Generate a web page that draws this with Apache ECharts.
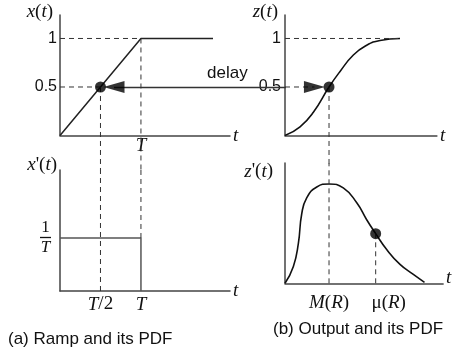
<!DOCTYPE html>
<html>
<head>
<meta charset="utf-8">
<script src="https://cdn.jsdelivr.net/npm/echarts@6/dist/echarts.min.js"></script>
<style>html,body{margin:0;background:#fff}#main{width:453px;height:356px}</style>
</head>
<body>
<div id="main"></div>
<script>
  // ramp x(t), t in units of T
  var rampT = [0, 1, 1.89];
  var rampV = [0, 1, 1];
  // its pdf x'(t), value in units of 1/T
  var stepT = [0, 1, 1];
  var stepV = [1, 1, 0];
  // output z(t)
  var zT = [0, 0.97, 1.83, 2.84, 3.55, 4.41, 5.27, 6.13, 7.42];
  var zV = [0, 0.09, 0.24, 0.5, 0.66, 0.83, 0.93, 0.98, 1.0];
  // its pdf z'(t)
  var dzT = [0, 0.54, 0.86, 1.08, 1.4, 2.05, 2.84, 3.76, 4.63, 5.27, 5.85, 6.56, 7.42, 8.28, 9.0];
  var dzV = [0, 0.17, 0.4, 0.7, 0.86, 0.97, 1.0, 0.96, 0.81, 0.64, 0.5, 0.34, 0.19, 0.09, 0.01];
  var halfT = 0.5, fullT = 1;
  var modeR = 2.84, meanR = 5.85;
  var arrowLeftT = 0.667, arrowRightT = 1.9;
  var delayEndT = 2.79; // where the delay line meets the z(t) axis, in ramp units

  function zip(a, b) {
    var out = [];
    for (var i = 0; i < a.length; i++) out.push([a[i], b[i]]);
    return out;
  }

  var serif = 'Liberation Serif';
  var sans = 'Liberation Sans';
  var ink = '#111';
  var axisCol = '#444';
  var rich = {
    i: {fontFamily: serif, fontStyle: 'italic', fontSize: 19, color: ink},
    n: {fontFamily: serif, fontSize: 19, color: ink},
    g: {fontFamily: serif, fontSize: 19, color: ink, padding: [0, 0, 0, 26]},
    num: {fontFamily: serif, fontSize: 17, color: ink, align: 'center', lineHeight: 15},
    bar: {width: 11, height: 1.3, backgroundColor: ink, align: 'center', lineHeight: 4},
    den: {fontFamily: serif, fontStyle: 'italic', fontSize: 17, color: ink, align: 'center', lineHeight: 16}
  };

  function xAx(idx, max, labels) {
    return {
      type: 'value', gridIndex: idx, min: 0, max: max,
      name: '{i|t}', nameLocation: 'end', nameGap: 3,
      nameTextStyle: {rich: rich, verticalAlign: 'middle', padding: idx == 3 ? [0, 0, 10, 0] : 0},
      axisLine: {show: true, onZero: false, lineStyle: {color: axisCol, width: 1.5}},
      axisTick: {show: false},
      splitLine: {show: false},
      axisLabel: labels ? {
        customValues: labels.values, margin: labels.margin,
        formatter: function(v) { return labels.text[labels.values.indexOf(v)]; },
        rich: rich
      } : {show: false}
    };
  }
  function yAx(idx, max, name, gap, pad, labels) {
    return {
      type: 'value', gridIndex: idx, min: 0, max: max,
      name: name, nameLocation: 'end', nameGap: gap,
      nameTextStyle: {rich: rich, align: 'right', verticalAlign: 'middle', padding: [0, pad, 0, 0]},
      axisLine: {show: true, lineStyle: {color: axisCol, width: 1.5}},
      axisTick: {show: false},
      splitLine: {show: false},
      axisLabel: labels ? {
        customValues: labels.values, margin: labels.margin,
        formatter: function(v) { return labels.text[labels.values.indexOf(v)]; },
        fontFamily: sans, fontSize: 16, color: ink, rich: rich
      } : {show: false}
    };
  }

  function curve(ax, data, col, w) {
    return {type: 'line', xAxisIndex: ax, yAxisIndex: ax, data: data, symbol: 'none',
      lineStyle: {color: col || ink, width: w || 1.6}, silent: true};
  }
  function dash(ax, data) {
    return {type: 'line', xAxisIndex: ax, yAxisIndex: ax, data: data, symbol: 'none', clip: false,
      lineStyle: {color: '#333', width: 1, type: [5, 4]}, silent: true};
  }
  function dots(ax, data) {
    return {type: 'scatter', xAxisIndex: ax, yAxisIndex: ax, data: data, symbolSize: 11,
      itemStyle: {color: '#000'}, silent: true, z: 5};
  }
  function head(ax, pos, rot) {
    return {type: 'scatter', xAxisIndex: ax, yAxisIndex: ax, data: [pos], symbol: 'triangle',
      symbolSize: [12, 21], symbolRotate: rot, itemStyle: {color: '#000'}, silent: true, z: 5};
  }

  var dom = document.getElementById('main');
  var myChart = echarts.init(dom, null, {renderer: 'canvas'});
  var option = {
    backgroundColor: '#fff',
    animation: false,
    grid: [
      {left: 60, top: 15, width: 170, height: 120.5},
      {left: 60, top: 170, width: 170, height: 121},
      {left: 285, top: 15, width: 151.9, height: 120.5},
      {left: 285, top: 163, width: 158.1, height: 120.3}
    ],
    xAxis: [
      xAx(0, 2.1, {values: [fullT], text: ['{i|T}'], margin: 1}),
      xAx(1, 2.1, {values: [halfT, fullT], text: ['{i|T}{n|/2}', '{i|T}'], margin: 4}),
      xAx(2, 9.8, null),
      xAx(3, 10.2, {values: [modeR, meanR], text: ['{i|M}{n|(}{i|R}{n|)}', '{g|\u03bc(}{i|R}{n|)}'], margin: 10})
    ],
    yAxis: [
      yAx(0, 1.242, '{i|x}{n|(}{i|t}{n|)}', 3, 7, {values: [0.5, 1], text: ['0.5', '1'], margin: 3}),
      yAx(1, 2.283, "{i|x}{n|'(}{i|t}{n|)}", 5, 3, {values: [1], text: ['{num|1}\n{bar|}\n{den|T}'], margin: 9}),
      yAx(2, 1.242, '{i|z}{n|(}{i|t}{n|)}', 3, 7, {values: [0.5, 1], text: ['0.5', '1'], margin: 4}),
      yAx(3, 1.211, "{i|z}{n|'(}{i|t}{n|)}", -8.5, 12, null)
    ],
    series: [
      // ramp panel
      curve(0, zip(rampT, rampV), '#222', 1.5),
      dash(0, [[0, 1], [fullT, 1]]),
      dash(0, [[0, 0.5], [halfT, 0.5]]),
      dash(0, [[halfT, 0.5], [halfT, -0.36]]),
      dash(0, [[fullT, 1], [fullT, -0.36]]),
      {
        type: 'lines', coordinateSystem: 'cartesian2d', xAxisIndex: 0, yAxisIndex: 0, clip: false,
        data: [{coords: [[arrowLeftT, 0.5], [delayEndT, 0.5]]}],
        lineStyle: {color: '#333', width: 1.3, opacity: 1}, silent: true
      },
      dots(0, [[halfT, 0.5]]),
      head(0, [arrowLeftT, 0.5], 90),
      // ramp pdf
      curve(1, zip(stepT, stepV), '#555', 1.5),
      dash(1, [[halfT, 0], [halfT, 2.283]]),
      dash(1, [[fullT, 1], [fullT, 2.283]]),
      // output
      Object.assign(curve(2, zip(zT, zV)), {smooth: 0.5}),
      dash(2, [[0, 1], [zT[zT.length - 1], 1]]),
      dash(2, [[0, 0.5], [arrowRightT, 0.5]]),
      dash(2, [[modeR, 0.5], [modeR, -0.29]]),
      dots(2, [[modeR, 0.5]]),
      head(2, [arrowRightT, 0.5], -90),
      // output pdf
      Object.assign(curve(3, zip(dzT, dzV)), {smooth: 0.5}),
      dash(3, [[modeR, 0], [modeR, 1.211]]),
      dash(3, [[meanR, 0], [meanR, 0.5]]),
      dots(3, [[meanR, 0.5]])
    ],
    graphic: [
      {type: 'text', x: 207, y: 73, style: {text: 'delay', font: '17px "Liberation Sans"', fill: ink, verticalAlign: 'middle'}},
      {type: 'text', x: 8, y: 339, style: {text: '(a) Ramp and its PDF', font: '17px "Liberation Sans"', fill: ink, verticalAlign: 'middle'}},
      {type: 'text', x: 273, y: 329, style: {text: '(b) Output and its PDF', font: '17px "Liberation Sans"', fill: ink, verticalAlign: 'middle'}}
    ]
  };
  if (option && typeof option === "object") {
    myChart.setOption(option, true);
  }
</script>
</body>
</html>
